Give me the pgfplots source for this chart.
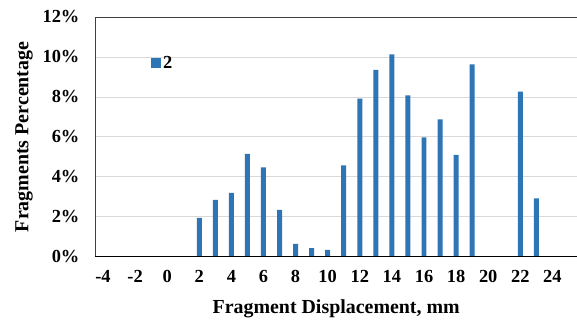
\documentclass[border=0pt]{standalone}
\usepackage{fontspec}
\setmainfont{Liberation Serif}
\usepackage{pgfplots}
\pgfplotsset{compat=1.18}
\definecolor{barblue}{HTML}{2E75B6}
\definecolor{gridgray}{HTML}{D9D9D9}
\definecolor{axisgray}{HTML}{404040}
\begin{document}
\begin{tikzpicture}
\begin{axis}[
  scale only axis, width=482bp, height=240bp,
  xmin=-4.5, xmax=25.5, ymin=0, ymax=12,
  xtick={-4,-2,...,24}, ytick={0,2,...,12},
  axis line style={draw=none},
  ymajorgrids, grid style={gridgray, line width=0.8bp},
  major tick length=0pt,
  /pgf/number format/assume math mode=true,
  ticklabel style={font=\bfseries\fontsize{18.5}{18.5}\selectfont},
  xticklabel style={yshift=-10bp},
  yticklabel style={xshift=-12bp},
  yticklabel={\pgfmathprintnumber{\tick}\%},
  xlabel={Fragment Displacement, mm},
  ylabel={Fragments Percentage},
  label style={font=\bfseries\fontsize{20}{20}\selectfont},
  xlabel style={at={(axis description cs:0.501,-0.217)}, anchor=center},
  ylabel style={at={(axis description cs:-0.147,0.5)}, anchor=center},
  ybar, bar width=5bp,
  legend style={at={(axis description cs:0.11,0.808)}, anchor=west, draw=none, fill=none,
    font=\bfseries\fontsize{18.5}{18.5}\selectfont},
  legend image code/.code={\fill[#1] (0bp,-5bp) rectangle (10bp,5bp);},
  clip=false,
]
\addplot[fill=barblue, draw=none] coordinates {
(2,1.95) (3,2.85) (4,3.2) (5,5.15) (6,4.47) (7,2.35) (8,0.65) (9,0.43) (10,0.35)
(11,4.57) (12,7.92) (13,9.35) (14,10.13) (15,8.08) (16,5.97) (17,6.87) (18,5.1)
(19,9.63) (22,8.27) (23,2.92)
};
\legend{2}
\draw[axisgray, line width=0.8bp] (rel axis cs:0,0) -- (rel axis cs:0,1) -- (rel axis cs:1,1);
\draw[black, line width=1bp] (rel axis cs:0,0) -- (rel axis cs:1,0);
\end{axis}
\useasboundingbox ([xshift=-95bp,yshift=-63bp]current axis.south west) rectangle ([yshift=17bp]current axis.north east);
\end{tikzpicture}
\end{document}
